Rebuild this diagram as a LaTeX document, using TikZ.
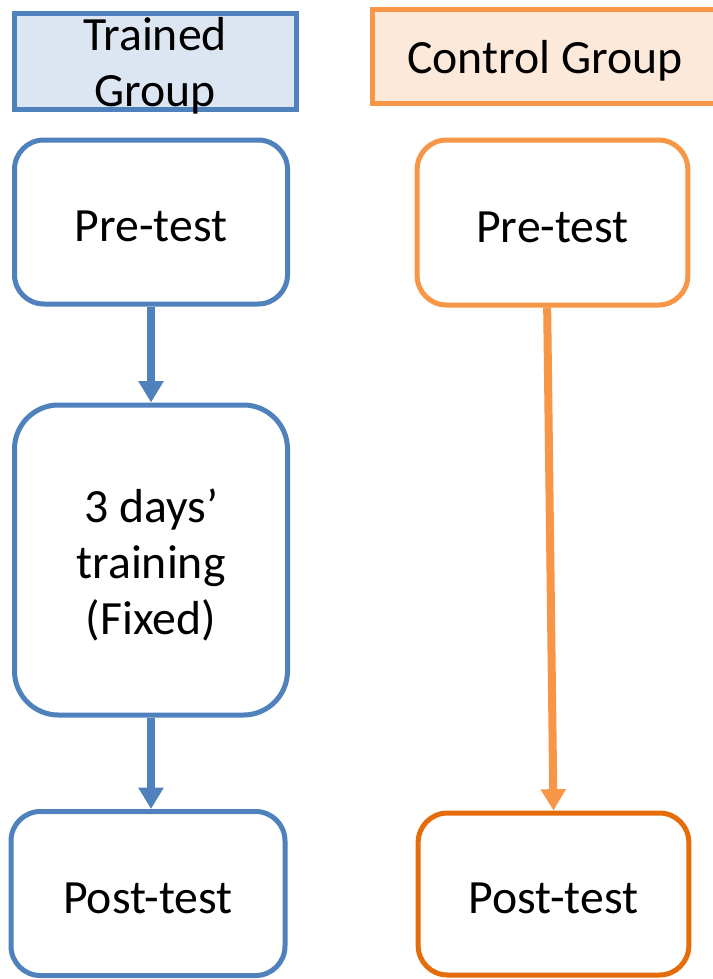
\documentclass[tikz,border=0pt]{standalone}
\usepackage{fontspec}
\setmainfont{Carlito}
\usetikzlibrary{arrows.meta}
\definecolor{blueline}{HTML}{4F81BD}
\definecolor{bluefill}{HTML}{DCE6F2}
\definecolor{orangeline}{HTML}{F79646}
\definecolor{orangedark}{HTML}{E46C0A}
\definecolor{orangefill}{HTML}{FDE9D9}
\tikzset{
  px/.style={x=0.75pt,y=-0.75pt},
  lbl/.style={font=\fontsize{35.8pt}{42pt}\selectfont, align=center, text=black, inner sep=0pt},
  header/.style={draw, line width=3.75pt, rectangle},
  stepbox/.style={draw, line width=3.75pt, rectangle, rounded corners=22pt},
  flow/.style={line width=6pt, -{Triangle[width=18pt,length=16pt]}},
  txtdown/.style={yshift=-3.5pt},
}
\begin{document}
\begin{tikzpicture}[px]
  \clip (0,0) rectangle (713,979);
  \fill[white] (0,0) rectangle (713,979);

  % group headers
  \node[header, draw=blueline, fill=bluefill, minimum width=211.5pt, minimum height=72pt]
    (tg) at (155,61) {};
  \node[lbl] (tgtext) at ([txtdown]tg.center) {Trained\\Group};
  \node[header, draw=orangeline, fill=orangefill, minimum width=259.5pt, minimum height=70.5pt]
    (cg) at (545,56) {};
  \node[lbl] (cgtext) at ([txtdown]cg.center) {Control Group};

  % trained group steps
  \node[stepbox, draw=blueline, minimum width=204.75pt, minimum height=123pt]
    (tpre) at (151,222) {};
  \node[lbl] (tpretext) at ([txtdown]tpre.center) {Pre-test};
  \node[stepbox, draw=blueline, rounded corners=33pt, minimum width=204.75pt, minimum height=232.5pt]
    (ttrain) at (151,560) {};
  \node[lbl] (ttraintext) at ([yshift=-4pt]ttrain.center) {3 days’\\training\\(Fixed)};
  \node[stepbox, draw=blueline, minimum width=205.5pt, minimum height=123pt]
    (tpost) at (148,893.5) {};
  \node[lbl] (tposttext) at ([txtdown]tpost.center) {Post-test};

  % control group steps
  \node[stepbox, draw=orangeline, minimum width=203pt, minimum height=123.75pt]
    (cpre) at (552.5,222.5) {};
  \node[lbl] (cpretext) at ([txtdown]cpre.center) {Pre-test};
  \node[stepbox, draw=orangedark, minimum width=203pt, minimum height=121.5pt]
    (cpost) at (553.5,894) {};
  \node[lbl] (cposttext) at ([txtdown]cpost.center) {Post-test};

  % connectors
  \draw[flow, blueline] (tpre.south) -- (ttrain.north);
  \draw[flow, blueline] (ttrain.south) -- (tpost.north -| ttrain.south);
  \draw[flow, orangeline] ([xshift=-4pt]cpre.south) -- (cpost.north);
\end{tikzpicture}
\end{document}
